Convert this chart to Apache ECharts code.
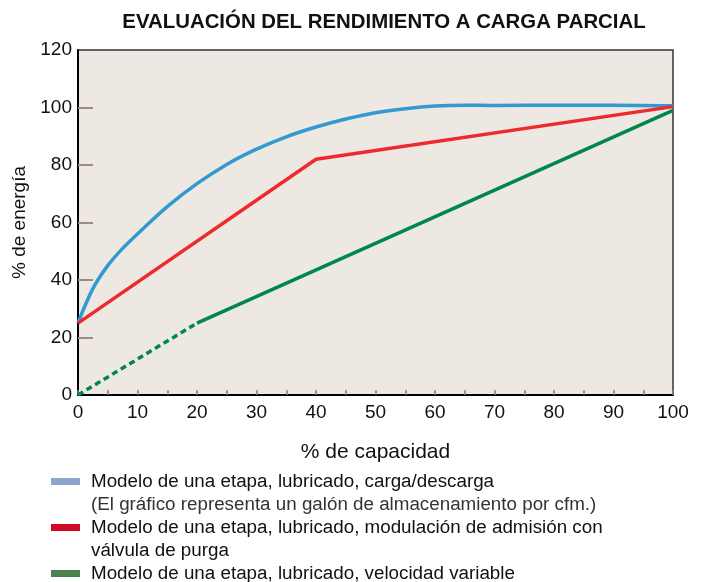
<!DOCTYPE html>
<html>
  <head>
    <meta charset="utf-8" />
    <title>ECharts</title>
    <script src="https://cdn.jsdelivr.net/npm/echarts@6/dist/echarts.min.js"></script>
  </head>
  <body style="margin: 0">
    <div id="chart" style="width: 708px; height: 582px"></div>
    <script type="text/javascript">
      // datos
      var cargaDescarga = [
        [0, 25], [2.5, 37], [5, 45], [7.5, 51], [10, 56], [15, 65.5],
        [20, 73.5], [25, 80.2], [30, 85.5], [35, 89.8], [40, 93.2], [45, 96],
        [50, 98.2], [55, 99.6], [60, 100.5], [65, 100.8], [70, 100.7],
        [80, 100.8], [90, 100.8], [100, 100.6]
      ];
      var modulacion = [[0, 25], [40, 82], [100, 100.3]];
      var velocidadTeorica = [[0, 0], [20, 25]];
      var velocidadVariable = [[20, 25], [100, 99]];
      var yTicks = [20, 40, 60, 80, 100];
      var leyenda = [
        "Modelo de una etapa, lubricado, carga/descarga",
        "(El gráfico representa un galón de almacenamiento por cfm.)",
        "Modelo de una etapa, lubricado, modulación de admisión con",
        "válvula de purga",
        "Modelo de una etapa, lubricado, velocidad variable"
      ];
      var leyendaColores = ["#8da4cc", null, "#cf0a24", null, "#4d7f50"];

      var font = "'Liberation Sans', Helvetica, Arial, sans-serif";
      var chart = echarts.init(document.getElementById("chart"));

      var graficos = [];
      leyenda.forEach(function (t, i) {
        var y = 482 + i * 23;
        if (leyendaColores[i]) {
          graficos.push({
            type: "rect",
            shape: { x: 51, y: y - 4, width: 29, height: 7 },
            style: { fill: leyendaColores[i] }
          });
        }
        graficos.push({
          type: "text",
          x: 91,
          y: y,
          style: {
            text: t,
            font: "18.8px " + font,
            fill: i === 1 ? "#333" : "#111",
            verticalAlign: "middle"
          }
        });
      });

      var option = {
        title: {
          text: "EVALUACIÓN DEL RENDIMIENTO A CARGA PARCIAL",
          left: 379,
          top: 7,
          textAlign: "center",
          textStyle: { fontFamily: font, fontSize: 20.4, fontWeight: "bold", color: "#111" }
        },
        grid: {
          left: 78, right: 35, top: 50, bottom: 187,
          show: true,
          backgroundColor: "#ede9e2",
          borderColor: "#333",
          borderWidth: 1.5
        },
        xAxis: {
          type: "value",
          min: 0, max: 100, interval: 10,
          name: "% de capacidad",
          nameLocation: "middle",
          nameGap: 47,
          nameTextStyle: { fontFamily: font, fontSize: 21, color: "#111" },
          axisLine: { lineStyle: { color: "#000", width: 2 } },
          axisTick: { inside: true, length: 5, lineStyle: { color: "#8a7f70", width: 1.5 } },
          minorTick: { show: true, splitNumber: 2, length: 5, lineStyle: { color: "#8a7f70", width: 1.5 } },
          splitLine: { show: false },
          axisLabel: { fontFamily: font, fontSize: 19, color: "#111", margin: 8 }
        },
        yAxis: {
          type: "value",
          min: 0, max: 120, interval: 20,
          name: "% de energía",
          nameLocation: "middle",
          nameGap: 49,
          nameTextStyle: { fontFamily: font, fontSize: 19, color: "#111" },
          axisLine: { show: true, lineStyle: { color: "#000", width: 2 } },
          axisTick: {
            show: true, inside: true, length: 15, customValues: yTicks,
            lineStyle: { color: "#9a8d7a", width: 2 }
          },
          splitLine: { show: false },
          axisLabel: { fontFamily: font, fontSize: 19, color: "#111", margin: 6 }
        },
        series: [
          {
            name: "carga/descarga", type: "line", data: cargaDescarga,
            smooth: 0.35, symbol: "none",
            lineStyle: { color: "#3399d1", width: 3.5 }
          },
          {
            name: "modulación", type: "line", data: modulacion,
            symbol: "none",
            lineStyle: { color: "#ee2a2e", width: 3.5 }
          },
          {
            name: "velocidad teórica", type: "line", data: velocidadTeorica,
            symbol: "none",
            lineStyle: { color: "#00874a", width: 3.5, type: [6, 4] }
          },
          {
            name: "velocidad variable", type: "line", data: velocidadVariable,
            symbol: "none",
            lineStyle: { color: "#00874a", width: 3.5 }
          }
        ],
        graphic: graficos
      };
      chart.setOption(option);
    </script>
  </body>
</html>
